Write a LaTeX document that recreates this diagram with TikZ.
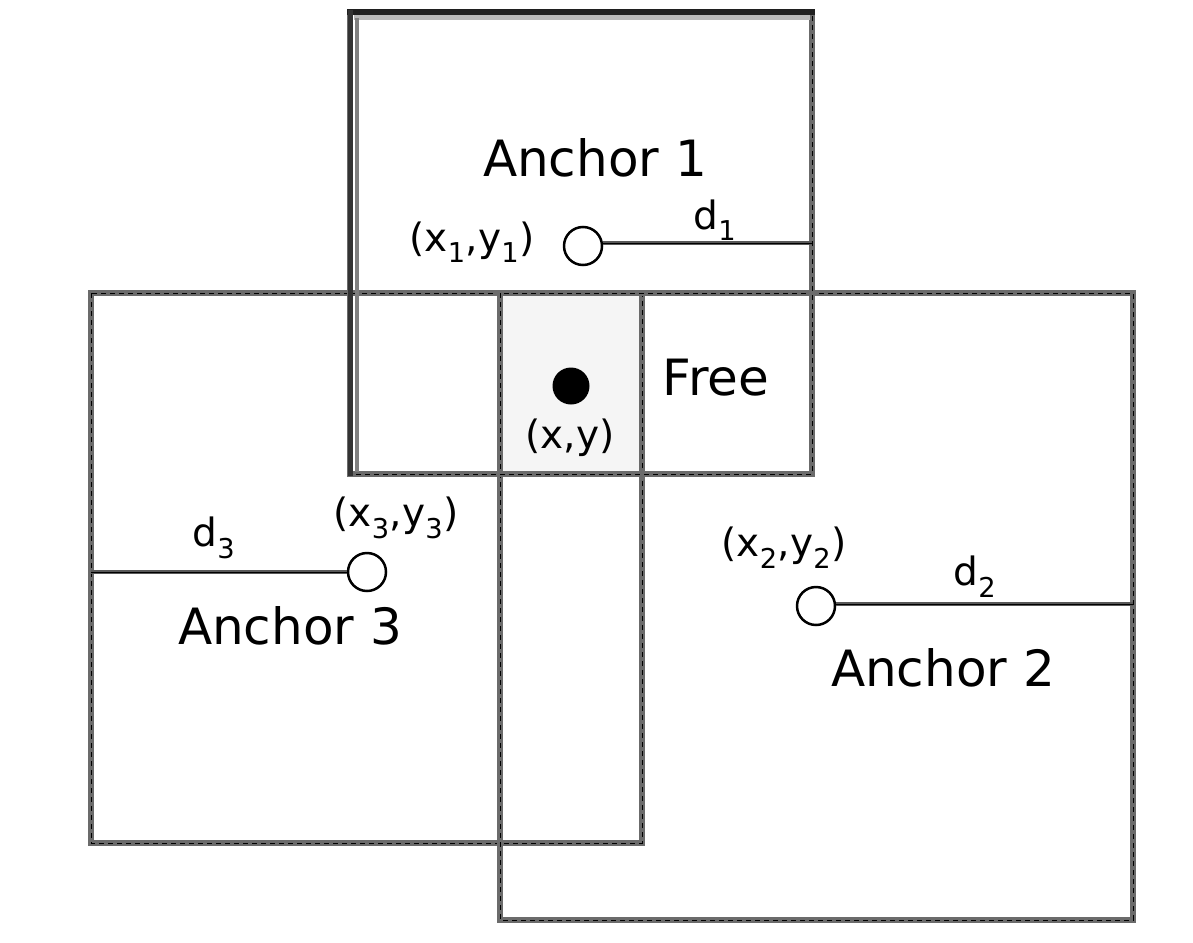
\documentclass[tikz,border=0pt]{standalone}
\usepackage{fontspec}
\setmainfont{DejaVu Sans}
\begin{document}
\begin{tikzpicture}[x=1pt,y=-1pt,
  boxedge/.style={draw=black!58,line width=6pt},
  boxdash/.style={draw=black,line width=0.8pt,dash pattern=on 5pt off 4pt},
  anchorpt/.style={circle,draw=black,line width=2.5pt,fill=white,minimum size=38pt,inner sep=0pt},
  dline/.style={draw=black!65,line width=4.5pt},
  dcore/.style={draw=black,line width=1pt},
  big/.style={font=\fontsize{50}{52}\selectfont,inner sep=0pt},
  mid/.style={font=\fontsize{39}{41}\selectfont,inner sep=0pt},
]
\useasboundingbox[fill=white] (0,0) rectangle (1193,942);
% free region
\fill[black!4] (500,295) rectangle (642,475);
\draw[line width=1pt] (500,295) rectangle (642,475);
% box corners
\coordinate (a1tl) at (350,12);  \coordinate (a1br) at (812,474);
\coordinate (a3tl) at (91,293);  \coordinate (a3br) at (642,843);
\coordinate (a2tl) at (500,293); \coordinate (a2br) at (1133,920);
% boxes
\foreach \p/\q in {a3tl/a3br,a2tl/a2br,a1tl/a1br}{
  \draw[boxedge] (\p) rectangle (\q);
  \draw[boxdash] (\p) rectangle (\q);
}
% anchor 1 emphasised top and left edges
\draw[black!28,line width=5pt] (354,18) -- (810,18);
\draw[black!50,line width=4pt] (357,18) -- (357,472);
\draw[black!88,line width=6pt] (347,12) -- (815,12);
\draw[black!80,line width=5pt] (350,10) -- (350,476);
% anchor points
\node[anchorpt] (c1) at (583,246) {};
\node[anchorpt] (c3) at (367,572) {};
\node[anchorpt] (c2) at (816,606) {};
\node[circle,fill=black,minimum size=37pt,inner sep=0pt] (p) at (571,386) {};
% distance lines
\coordinate (e1) at (812,243);
\coordinate (e3) at (91,572);
\coordinate (e2) at (1133,604);
\draw[dline] (c1.east |- e1) -- (e1);
\draw[dcore] (c1.east |- e1) -- (e1);
\draw[dline] (e3) -- (c3.west);
\draw[dcore] (e3) -- (c3.west);
\draw[dline] (c2.east |- e2) -- (e2);
\draw[dcore] (c2.east |- e2) -- (e2);
% labels
\node[big] (t1) at (595,158) {Anchor 1};
\node[big] (t3) at (290,626) {Anchor 3};
\node[big] (t2) at (943,668) {Anchor 2};
\node[big] (tf) at (716,378) {Free};
\node[mid] (txy) at (570,438) {(x,y)};
\node[mid] (l1) at (472,242) {(x\textsubscript{1},y\textsubscript{1})};
\node[mid] (l3) at (396,518) {(x\textsubscript{3},y\textsubscript{3})};
\node[mid] (l2) at (784,548) {(x\textsubscript{2},y\textsubscript{2})};
\node[mid] (dd1) at (715,220) {d\textsubscript{1}};
\node[mid] (dd3) at (214,538) {d\textsubscript{3}};
\node[mid] (dd2) at (975,577) {d\textsubscript{2}};
\end{tikzpicture}
\end{document}
